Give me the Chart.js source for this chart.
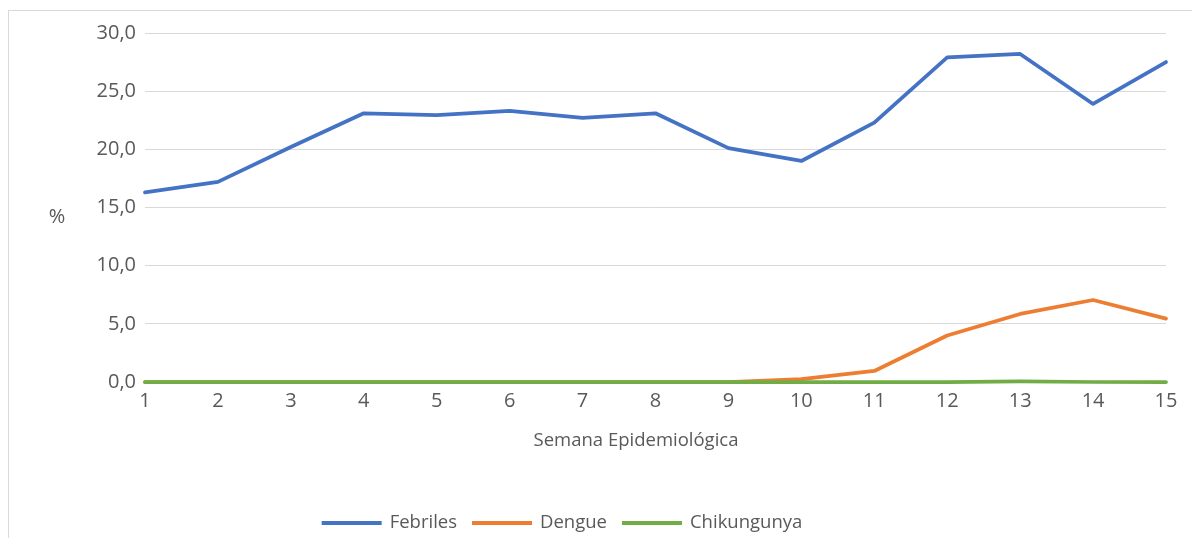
<!DOCTYPE html>
<html>
<head>
<meta charset="utf-8">
<script src="https://cdn.jsdelivr.net/npm/chart.js@4"></script>
<style>
  html, body { margin: 0; padding: 0; background: #fff; overflow: hidden; }
  #frame { position: absolute; left: 8px; top: 10px; width: 1400px; height: 800px; border: 1px solid #d9d9d9; }
  #wrap { position: absolute; left: 0; top: 0; width: 1192px; height: 538px; }
</style>
</head>
<body>
<div id="frame"></div>
<div id="wrap"><canvas id="line-chart" width="1192" height="538"></canvas></div>
<script>
var weeks = ['1','2','3','4','5','6','7','8','9','10','11','12','13','14','15'];
var febriles = [16.3, 17.2, 20.2, 23.1, 22.95, 23.3, 22.7, 23.1, 20.1, 19.0, 22.3, 27.9, 28.2, 23.9, 27.5];
var dengue = [0, 0, 0, 0, 0, 0, 0, 0, 0, 0.25, 0.95, 4.0, 5.85, 7.05, 5.45];
var chikungunya = [0, 0, 0, 0, 0, 0, 0, 0, 0, 0, 0, 0, 0.05, 0, 0];
var seriesNames = ['Febriles', 'Dengue', 'Chikungunya'];
var seriesColors = ['#4472C4', '#ED7D31', '#70AD47'];
var xTitle = 'Semana Epidemiológica';
var yTitle = '%';

var textColor = '#595959';
var fontFamily = '"Open Sans", "DejaVu Sans", sans-serif';

// axis titles and legend, drawn where Excel puts them
var extraText = {
  id: 'extraText',
  afterDraw: function(chart) {
    let ctx = chart.ctx;
    ctx.save();
    ctx.fillStyle = textColor;
    ctx.textBaseline = 'middle';
    ctx.textAlign = 'center';
    ctx.font = '20px ' + fontFamily;
    ctx.fillText(yTitle, 57, chart.scales.y.getPixelForValue(15) + 10);

    ctx.font = '18.5px ' + fontFamily;
    ctx.fillText(xTitle, 636, 441);

    ctx.font = '18.5px ' + fontFamily;
    let lineLen = 60, gapText = 8, gapItem = 15;
    let total = 0;
    chart.data.datasets.forEach(function(ds, i) {
      total += lineLen + gapText + ctx.measureText(ds.label).width;
      if (i < chart.data.datasets.length - 1) total += gapItem;
    });
    let x = 562 - total / 2;
    let y = 523;
    ctx.textAlign = 'left';
    chart.data.datasets.forEach(function(ds) {
      ctx.strokeStyle = ds.borderColor;
      ctx.lineWidth = 4;
      ctx.beginPath();
      ctx.moveTo(x, y);
      ctx.lineTo(x + lineLen, y);
      ctx.stroke();
      x += lineLen + gapText;
      ctx.fillText(ds.label, x, y);
      x += ctx.measureText(ds.label).width + gapItem;
    });
    ctx.restore();
  }
};

function makeSet(name, values, color, order) {
  return {
    label: name,
    data: values,
    borderColor: color,
    backgroundColor: color,
    borderWidth: 3.75,
    pointRadius: 0,
    pointHoverRadius: 0,
    tension: 0,
    fill: false,
    clip: false,
    borderJoinStyle: 'round',
    borderCapStyle: 'round',
    order: order
  };
}

new Chart(document.getElementById('line-chart'), {
  type: 'line',
  data: {
    labels: weeks,
    datasets: [
      makeSet(seriesNames[0], febriles, seriesColors[0], 3),
      makeSet(seriesNames[1], dengue, seriesColors[1], 2),
      makeSet(seriesNames[2], chikungunya, seriesColors[2], 1)
    ]
  },
  options: {
    responsive: false,
    animation: false,
    layout: { padding: { top: 33, right: 26, bottom: 0, left: 0 } },
    plugins: {
      legend: { display: false },
      tooltip: { enabled: false }
    },
    scales: {
      x: {
        offset: false,
        grid: { display: false, drawTicks: false },
        border: { display: false },
        ticks: { color: textColor, padding: 7, maxRotation: 0, autoSkip: false, font: { family: fontFamily, size: 20 } },
        afterFit: function(scale) { scale.height = 156; }
      },
      y: {
        min: 0,
        max: 30,
        grid: { color: '#d9d9d9', lineWidth: 1, drawTicks: false },
        border: { display: false },
        ticks: {
          stepSize: 5,
          color: textColor,
          padding: 9,
          font: { family: fontFamily, size: 20 },
          callback: function(v) { return v.toFixed(1).replace('.', ','); }
        },
        afterFit: function(scale) { scale.width = 145; }
      }
    }
  },
  plugins: [extraText]
});
</script>
</body>
</html>
